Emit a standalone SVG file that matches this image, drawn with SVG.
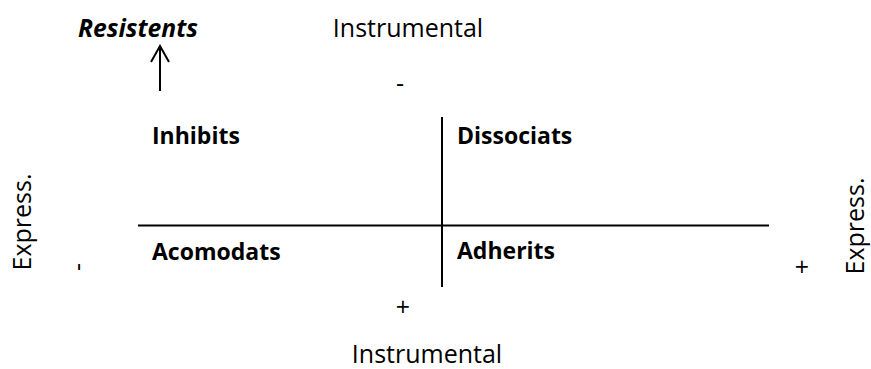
<svg xmlns="http://www.w3.org/2000/svg" width="871" height="369" viewBox="0 0 871 369">
<style>
text{font-family:"Open Sans","Liberation Sans",sans-serif;fill:#000}
.lbl{font-size:25px}
.q{font-size:23px;font-weight:bold}
.sign{font-size:25px}
.ln{stroke:#000;stroke-width:2;fill:none}
</style>
<rect width="871" height="369" fill="#fff"/>
<g id="connectors">
<line class="ln" x1="138" y1="225.5" x2="769" y2="225.5"/>
<line class="ln" x1="442" y1="117" x2="442" y2="287"/>
<line class="ln" x1="160" y1="46" x2="160" y2="91"/>
<polyline class="ln" points="151,62 160,46 169,62"/>
</g>
<g id="resistents"><text x="78" y="37" font-size="25" font-weight="bold" font-style="italic" textLength="120" lengthAdjust="spacingAndGlyphs">Resistents</text></g>
<g id="instrumental-top"><text class="lbl" x="408" y="37" text-anchor="middle">Instrumental</text></g>
<g id="minus-top"><text class="sign" x="400" y="92" text-anchor="middle">-</text></g>
<g id="inhibits"><text class="q" x="152" y="144">Inhibits</text></g>
<g id="dissociats"><text class="q" x="457" y="144">Dissociats</text></g>
<g id="acomodats"><text class="q" x="152" y="260">Acomodats</text></g>
<g id="adherits"><text class="q" x="457" y="259">Adherits</text></g>
<g id="express-left"><text class="lbl" transform="translate(31,222) rotate(-90)" text-anchor="middle" font-size="24">Express.</text></g>
<g id="express-right"><text class="lbl" transform="translate(864,226) rotate(-90)" text-anchor="middle" font-size="24">Express.</text></g>
<g id="minus-left"><text class="sign" transform="translate(86,267) rotate(-90)" text-anchor="middle">-</text></g>
<g id="plus-right"><text class="sign" x="802" y="276" text-anchor="middle">+</text></g>
<g id="plus-bottom"><text class="sign" x="403" y="316" text-anchor="middle">+</text></g>
<g id="instrumental-bottom"><text class="lbl" x="427" y="363" text-anchor="middle">Instrumental</text></g>
</svg>
